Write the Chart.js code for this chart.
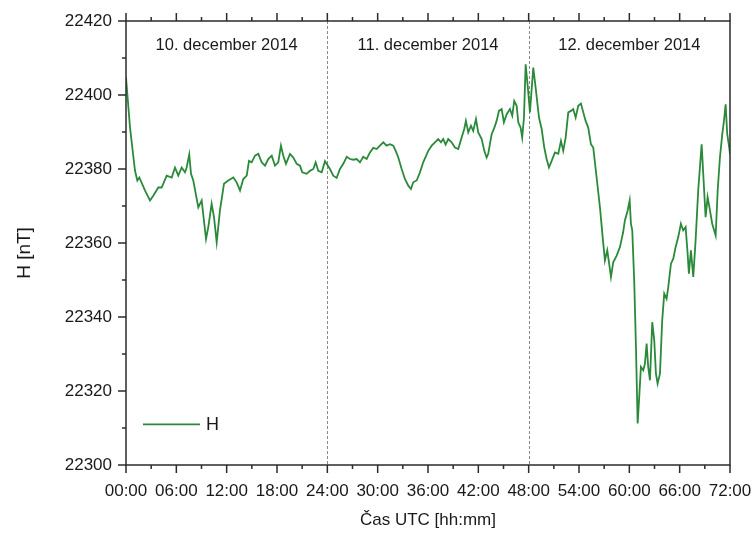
<!DOCTYPE html>
<html>
<head>
<meta charset="utf-8">
<script src="https://cdn.jsdelivr.net/npm/chart.js@4.4.1/dist/chart.umd.min.js"></script>
<style>
html, body { margin: 0; padding: 0; background: #fff; }
#wrap { width: 753px; height: 535px; }
</style>
</head>
<body>
<div id="wrap"><canvas id="h-chart"></canvas></div>
<script>
// hours since 10.12.2014 00:00 UTC
const hours = [
  0, 0.48, 1.07, 1.35, 1.59, 2.26, 2.86, 3.25, 3.85, 4.25, 4.85, 5.45, 5.84, 6.23, 6.64, 7.03, 7.23, 7.54, 7.75, 8.02,
  8.62, 9.02, 9.54, 9.81, 10.21, 10.49, 10.81, 11.2, 11.68, 12.19, 12.79, 13.19, 13.59, 13.98, 14.39, 14.66, 14.98, 15.38, 15.77, 16.17,
  16.57, 16.96, 17.37, 17.76, 18.15, 18.47, 18.75, 19.07, 19.55, 19.94, 20.35, 20.74, 21.01, 21.54, 21.93, 22.33, 22.61, 22.92, 23.33, 23.72,
  24.31, 24.71, 25.11, 25.51, 25.9, 26.31, 26.7, 27.09, 27.5, 27.89, 28.28, 28.69, 29.08, 29.48, 29.88, 30.27, 30.67, 31.07, 31.47, 31.86,
  32.15, 32.46, 32.86, 33.25, 33.65, 33.97, 34.24, 34.65, 35.04, 35.43, 36.03, 36.44, 36.83, 37.22, 37.54, 37.82, 38.1, 38.41, 38.82, 39.21,
  39.61, 40.01, 40.32, 40.52, 40.8, 41.12, 41.39, 41.72, 41.99, 42.4, 42.71, 42.99, 43.18, 43.38, 43.59, 43.9, 44.18, 44.46, 44.78, 45.05,
  45.38, 45.77, 46.04, 46.28, 46.57, 46.76, 47.04, 47.23, 47.44, 47.64, 47.94, 48.15, 48.55, 48.83, 49.23, 49.55, 49.86, 50.14, 50.42, 50.74,
  51.13, 51.53, 51.85, 52.12, 52.41, 52.72, 53.04, 53.31, 53.6, 53.91, 54.23, 54.51, 54.79, 55.1, 55.42, 55.7, 56.1, 56.5, 56.82, 57.09,
  57.37, 57.57, 57.81, 58.08, 58.49, 58.88, 59.26, 59.47, 59.8, 60.04, 60.19, 60.35, 60.58, 60.79, 60.99, 61.18, 61.38, 61.66, 61.86, 62.06,
  62.25, 62.46, 62.73, 62.97, 63.17, 63.37, 63.65, 63.92, 64.16, 64.44, 64.64, 64.96, 65.23, 65.52, 65.83, 66.15, 66.42, 66.71, 66.95, 67.1,
  67.34, 67.62, 67.9, 68.21, 68.62, 68.81, 69.09, 69.33, 69.61, 69.88, 70.29, 70.53, 70.8, 71.08, 71.28, 71.48, 71.67, 71.91, 72
]
// H component [nT]
const hValues = [
  22404.7, 22391.2, 22379.6, 22376.9, 22377.7, 22374.2, 22371.5, 22372.8, 22375.0, 22375.0, 22378.2, 22377.7, 22380.4, 22378.2, 22380.4, 22379.1, 22380.4, 22383.9, 22378.7, 22376.9,
  22369.6, 22371.5, 22361.1, 22364.3, 22370.6, 22367.0, 22360.2, 22368.8, 22376.0, 22376.9, 22377.7, 22376.4, 22374.2, 22377.3, 22378.2, 22382.2, 22381.8, 22383.6, 22384.1, 22381.8,
  22380.9, 22382.7, 22383.6, 22380.9, 22381.8, 22386.3, 22383.6, 22381.4, 22384.1, 22383.1, 22381.4, 22380.9, 22379.1, 22378.7, 22379.5, 22380.0, 22381.8, 22379.5, 22379.1, 22382.1,
  22380.0, 22378.2, 22377.6, 22380.0, 22381.4, 22383.3, 22382.7, 22382.5, 22382.7, 22381.8, 22383.3, 22382.7, 22384.5, 22385.7, 22385.4, 22386.3, 22387.2, 22386.3, 22386.7, 22386.3,
  22384.9, 22383.1, 22380.0, 22377.3, 22375.5, 22374.6, 22376.4, 22376.9, 22379.1, 22381.8, 22384.9, 22386.3, 22387.2, 22388.1, 22387.2, 22388.1, 22386.6, 22388.1, 22387.2, 22385.8,
  22385.4, 22388.5, 22390.8, 22393.0, 22389.9, 22391.7, 22390.3, 22393.5, 22389.9, 22388.1, 22384.9, 22383.1, 22384.1, 22386.7, 22389.4, 22391.1, 22393.0, 22395.7, 22396.2, 22392.6,
  22394.8, 22396.2, 22394.4, 22398.4, 22397.1, 22392.6, 22391.2, 22388.5, 22393.9, 22408.3, 22401.1, 22395.3, 22407.4, 22402.0, 22393.9, 22390.8, 22385.8, 22382.7, 22380.4, 22382.2,
  22384.5, 22384.1, 22387.6, 22384.9, 22388.5, 22395.3, 22395.7, 22396.2, 22393.9, 22397.1, 22397.7, 22395.3, 22393.0, 22391.2, 22386.7, 22385.8, 22377.7, 22369.6, 22361.6, 22355.3,
  22358.0, 22354.8, 22350.8, 22354.8, 22356.6, 22358.9, 22362.9, 22366.1, 22368.8, 22371.5, 22365.2, 22363.4, 22349.9, 22331.9, 22311.2, 22318.4, 22326.5, 22325.6, 22327.4, 22332.8,
  22326.5, 22322.9, 22338.6, 22333.7, 22324.7, 22322.0, 22324.7, 22339.1, 22346.3, 22344.9, 22348.1, 22354.4, 22355.7, 22358.9, 22361.6, 22365.2, 22363.4, 22364.3, 22357.1, 22351.7,
  22358.0, 22350.8, 22360.7, 22374.2, 22386.7, 22378.7, 22367.0, 22372.4, 22368.8, 22365.2, 22362.0, 22374.2, 22383.1, 22389.4, 22393.0, 22397.5, 22389.4, 22385.8, 22384.0
]
const dayLabels = ['10. december 2014', '11. december 2014', '12. december 2014']
const dayBreaks = [24, 48]
const seriesName = 'H'

const lineColor = '#2a8a3a'
const axisColor = '#2b2b2b'
const fontFamily = '"Liberation Sans", Arial, sans-serif'

const points = hours.map((h, i) => ({ x: h, y: hValues[i] }))

function fmtHour(v) {
    return String(v).padStart(2, '0') + ':00'
}

const decorPlugin = {
    id: 'decor',
    beforeDatasetsDraw(chart) {
        const ctx = chart.ctx
        const area = chart.chartArea
        const xs = chart.scales.x
        ctx.save()
        ctx.strokeStyle = '#8a8a8a'
        ctx.lineWidth = 1
        ctx.setLineDash([3, 2])
        dayBreaks.forEach(b => {
            const px = Math.round(xs.getPixelForValue(b)) + 0.5
            ctx.beginPath()
            ctx.moveTo(px, area.top)
            ctx.lineTo(px, area.bottom)
            ctx.stroke()
        })
        ctx.restore()
    },
    afterDraw(chart) {
        const ctx = chart.ctx
        const area = chart.chartArea
        const xs = chart.scales.x
        const ys = chart.scales.y
        ctx.save()
        ctx.strokeStyle = axisColor
        ctx.lineWidth = 1.5
        ctx.strokeRect(area.left, area.top, area.right - area.left, area.bottom - area.top)

        // y ticks, major every 20, minor every 10
        for (let v = ys.min; v <= ys.max; v += 10) {
            const py = ys.getPixelForValue(v)
            const len = (v - ys.min) % 20 == 0 ? 8 : 4
            ctx.beginPath()
            ctx.moveTo(area.left - len, py)
            ctx.lineTo(area.left, py)
            ctx.stroke()
        }
        // x ticks top and bottom, major every 6h, minor every 3h
        for (let h = xs.min; h <= xs.max; h += 3) {
            const px = xs.getPixelForValue(h)
            const len = h % 6 == 0 ? 8 : 4
            ctx.beginPath()
            ctx.moveTo(px, area.bottom)
            ctx.lineTo(px, area.bottom + len)
            ctx.moveTo(px, area.top)
            ctx.lineTo(px, area.top - len)
            ctx.stroke()
        }

        // day names
        ctx.fillStyle = '#1a1a1a'
        ctx.font = '16.5px ' + fontFamily
        ctx.textAlign = 'center'
        ctx.textBaseline = 'middle'
        dayLabels.forEach((t, i) => {
            ctx.fillText(t, xs.getPixelForValue(i * 24 + 12), area.top + 24)
        })

        // legend
        const ly = ys.getPixelForValue(22311)
        ctx.strokeStyle = lineColor
        ctx.lineWidth = 1.8
        ctx.beginPath()
        ctx.moveTo(area.left + 17, ly)
        ctx.lineTo(area.left + 74, ly)
        ctx.stroke()
        ctx.font = '18px ' + fontFamily
        ctx.textAlign = 'left'
        ctx.fillText(seriesName, area.left + 80, ly + 1)

        // y title
        ctx.translate(25, (area.top + area.bottom) / 2 + 10)
        ctx.rotate(-Math.PI / 2)
        ctx.textAlign = 'center'
        ctx.font = '19px ' + fontFamily
        ctx.fillText('H [nT]', 0, 0)
        ctx.restore()
    }
}

const config = {
    type: 'line',
    data: {
        datasets: [{
            label: seriesName,
            data: points,
            borderColor: lineColor,
            borderWidth: 1.8,
            pointRadius: 0,
            fill: false,
            tension: 0
        }]
    },
    options: {
        responsive: true,
        maintainAspectRatio: false,
        animation: false,
        layout: {
            padding: { left: 0, right: 23, top: 21, bottom: 0 }
        },
        plugins: {
            legend: { display: false },
            tooltip: { enabled: false }
        },
        scales: {
            x: {
                type: 'linear',
                min: 0,
                max: 72,
                afterFit: (scale) => {
                    scale.height = 70
                    scale.paddingLeft = 0
                    scale.paddingRight = 0
                },
                grid: { display: false, drawTicks: false },
                border: { display: false },
                ticks: {
                    stepSize: 6,
                    autoSkip: false,
                    maxRotation: 0,
                    padding: 16,
                    color: '#1a1a1a',
                    font: { family: fontFamily, size: 17 },
                    callback: (v) => fmtHour(v)
                },
                title: {
                    display: true,
                    text: 'Čas UTC [hh:mm]',
                    color: '#1a1a1a',
                    font: { family: fontFamily, size: 17 },
                    padding: { top: 0, bottom: 4 }
                }
            },
            y: {
                min: 22300,
                max: 22420,
                afterFit: (scale) => {
                    scale.width = 126
                    scale.paddingTop = 0
                    scale.paddingBottom = 0
                },
                grid: { display: false, drawTicks: false },
                border: { display: false },
                ticks: {
                    stepSize: 20,
                    padding: 14,
                    color: '#1a1a1a',
                    font: { family: fontFamily, size: 17 },
                    callback: (v) => String(v)
                }
            }
        }
    },
    plugins: [decorPlugin]
}

document.addEventListener('DOMContentLoaded', () => {
    new Chart(document.getElementById('h-chart'), config)
})
</script>
</body>
</html>
